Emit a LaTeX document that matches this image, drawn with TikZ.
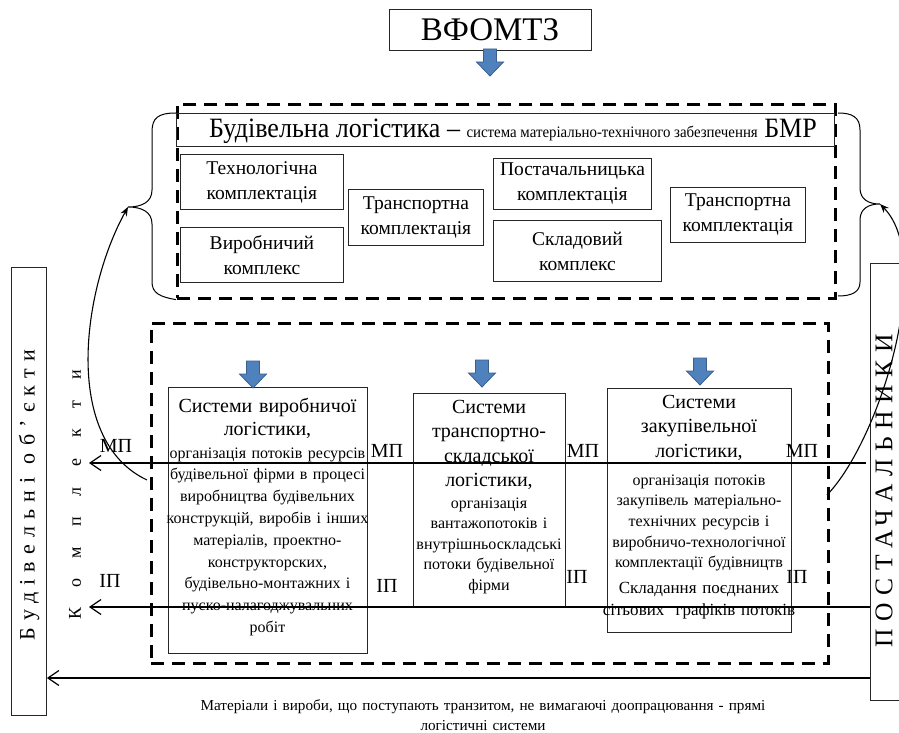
\documentclass[tikz,border=0pt]{standalone}
\usepackage{fontspec}
\usepackage{graphicx}
\setmainfont{Liberation Serif}
\newfontfamily\spacedA{Liberation Serif}[LetterSpace=33]
\newfontfamily\spacedB{Liberation Serif}[LetterSpace=115]
\newfontfamily\spacedC{Liberation Serif}[LetterSpace=30]
\usetikzlibrary{arrows.meta}
\newcommand\fsz[2]{\fontsize{#1}{#2}\selectfont}
\definecolor{arrowfill}{HTML}{4F81BD}
\definecolor{arrowedge}{HTML}{3A5F8E}
\begin{document}
\begin{tikzpicture}[x=1pt,y=-1pt,
  box/.style={draw=black!85, line width=0.9pt, inner sep=0pt, rectangle},
  dashbox/.style={draw=black, line width=2.6pt, dash pattern=on 13pt off 8pt, inner sep=0pt, rectangle},
  flow/.style={line width=1.3pt, -{Straight Barb[length=11pt,width=15pt,line width=1.2pt]}},
  curvearrow/.style={line width=1.1pt, -{Stealth[length=9pt,width=7pt]}},
  brace/.style={line width=1pt},
  upbox/.style={box, align=center, font=\fsz{19.5}{25}},
  title/.style={anchor=base, align=center, text width=240pt, inner sep=0pt, font=\fsz{20}{24.5}},
  small/.style={anchor=base, align=center, text width=240pt, inner sep=0pt, font=\fsz{16}{21}},
  label/.style={anchor=base, inner sep=0pt, font=\fsz{20}{20}},
  blockarrow/.pic={\draw[draw=arrowedge, fill=arrowfill, line width=0.8pt]
      (-6.5,0) -- (6.5,0) -- (6.5,13) -- (13.5,13) -- (0,27) -- (-13.5,13) -- (-6.5,13) -- cycle;}
]
\useasboundingbox (0,0) rectangle (899,733);
\fill[white] (0,0) rectangle (899,733);

% top
\node[box, minimum width=202pt, minimum height=41pt, font=\fsz{33}{33}] (vf) at (490,29.5) {ВФОМТЗ};
\pic at (490,49) {blockarrow};

% upper dashed area
\node[dashbox, anchor=north west, minimum width=658pt, minimum height=194pt] (upper) at (176,103) {};
\node[box, anchor=north west, minimum width=658pt, minimum height=33pt] (hdr) at (176,113) {};
\node[anchor=base, inner sep=0pt] (hdrtext) at (513,138)
  {\scalebox{0.93}[1]{{\fsz{28}{28}Будівельна логістика – }{\fsz{16}{16}система матеріально-технічного забезпечення}{\fsz{28}{28} БМР}}};

\node[upbox, anchor=north west, minimum width=163pt, minimum height=55pt] (tk) at (180,154) {Технологічна\\комплектація};
\node[upbox, anchor=north west, minimum width=163pt, minimum height=55pt] (vk) at (180,227) {Виробничий\\комплекс};
\node[upbox, anchor=north west, minimum width=135pt, minimum height=56pt] (tr1) at (348,189) {Транспортна\\комплектація};
\node[upbox, anchor=north west, minimum width=158pt, minimum height=51pt] (pk) at (493,158) {Постачальницька\\комплектація};
\node[upbox, anchor=north west, minimum width=168pt, minimum height=61pt] (sk) at (493,220) {Складовий\\комплекс};
\node[upbox, anchor=north west, minimum width=135pt, minimum height=55pt] (tr2) at (670,187) {Транспортна\\комплектація};

% braces
\coordinate (lbt) at (128,207);
\coordinate (rbt) at (880,204);
\draw[brace] (hdr.north west) .. controls (158,113) and (152,118) .. (152,132) -- (152,190)
  .. controls (152,202) and (142,207) .. (lbt)
  .. controls (142,207) and (152,212) .. (152,224) -- (152,282)
  .. controls (152,293) and (160,297) .. (upper.south west);
\draw[brace] (838,113) .. controls (852,113) and (860,117) .. (860,130) -- (860,188)
  .. controls (860,199) and (868,204) .. (rbt)
  .. controls (868,204) and (860,209) .. (860,220) -- (860,282)
  .. controls (860,292) and (852,296) .. (838,296);

% lower dashed area
\node[dashbox, anchor=north west, minimum width=677pt, minimum height=340pt] (lower) at (150,322) {};

\node[box, anchor=north west, minimum width=199pt, minimum height=266pt] (b1) at (168,387) {};
\node[box, anchor=north west, minimum width=152pt, minimum height=213pt] (b2) at (413,393) {};
\node[box, anchor=north west, minimum width=184pt, minimum height=244pt] (b3) at (607,388) {};

\pic at (253,361) {blockarrow};
\pic at (482,360) {blockarrow};
\pic at (700,358) {blockarrow};

\node[title, font=\fsz{20}{23}] (b1t) at (267.5,412) {Системи виробничої\\логістики,};
\node[small, font=\fsz{16}{21.8}] (b1s) at (267.5,458) {організація потоків ресурсів\\будівельної фірми в процесі\\виробництва будівельних\\конструкцій, виробів і інших\\матеріалів, проектно-\\конструкторских,\\будівельно-монтажних і\\пуско-налагоджувальних\\робіт};

\node[title] (b2t) at (489,413) {Системи\\транспортно-\\складської\\логістики,};
\node[small, font=\fsz{16}{20.5}] (b2s) at (489,508) {організація\\вантажопотоків і\\внутрішньоскладські\\потоки будівельної\\фірми};

\node[title] (b3t) at (699,408) {Системи\\закупівельної\\логістики,};
\node[small, font=\fsz{16}{20.7}] (b3s) at (699,485) {організація потоків\\закупівель матеріально-\\технічних ресурсів і\\виробничо-технологічної\\комплектації будівництв};
\node[small, font=\fsz{17}{22}] (b3x) at (699,593) {Складання поєднаних\\сітьових\ \ графіків потоків};

% side boxes
\node[box, anchor=north west, minimum width=35pt, minimum height=448pt] (bo) at (11,267) {};
\node[rotate=90, font=\spacedA\fsz{22}{22}, inner sep=0pt] (botext) at (29,495) {Будівельні об’єкти};
\node[rotate=90, font=\spacedB\fsz{18}{18}, inner sep=0pt] (komp) at (75,495) {Комплекти};
\node[box, anchor=north west, minimum width=60pt, minimum height=437pt] (post) at (870,263) {};
\node[rotate=90, font=\spacedC\fsz{25.5}{25.5}, inner sep=0pt] (posttext) at (884,491) {ПОСТАЧАЛЬНИКИ};

% flow lines
\coordinate (mpR) at (866,463);
\coordinate (mpL) at (89,463);
\coordinate (ipR) at (post.west |- 0,607);
\coordinate (ipL) at (89,607);
\coordinate (trR) at (post.west |- 0,678);
\coordinate (trL) at (bo.east |- 0,678);
\draw[flow] (mpR) -- (mpL);
\draw[flow] (ipR) -- (ipL);
\draw[flow] (trR) -- (trL);

% labels
\node[label] (mp0) at (116,452) {МП};
\node[label] (ip0) at (110,587) {ІП};
\node[label] (mp1) at (387,457) {МП};
\node[label] (ip1) at (387,592) {ІП};
\node[label] (mp2) at (583,457) {МП};
\node[label] (ip2) at (577,583) {ІП};
\node[label] (mp3) at (802,457) {МП};
\node[label] (ip3) at (797,583) {ІП};

% curved arrows to braces
\coordinate (lcs) at (147,480);
\coordinate (rcs) at (827,495);
\draw[curvearrow] (lcs) .. controls (62,440) and (82,290) .. (lbt);
\draw[curvearrow] (rcs) .. controls (880,440) and (935,260) .. (rbt);

% bottom text
\node[anchor=base, align=center, text width=700pt, inner sep=0pt, font=\fsz{15.2}{20}] (bottom) at (483,710)
  {Матеріали і вироби, що поступають транзитом, не вимагаючі доопрацювання - прямі\\логістичні системи};
\end{tikzpicture}
\end{document}
